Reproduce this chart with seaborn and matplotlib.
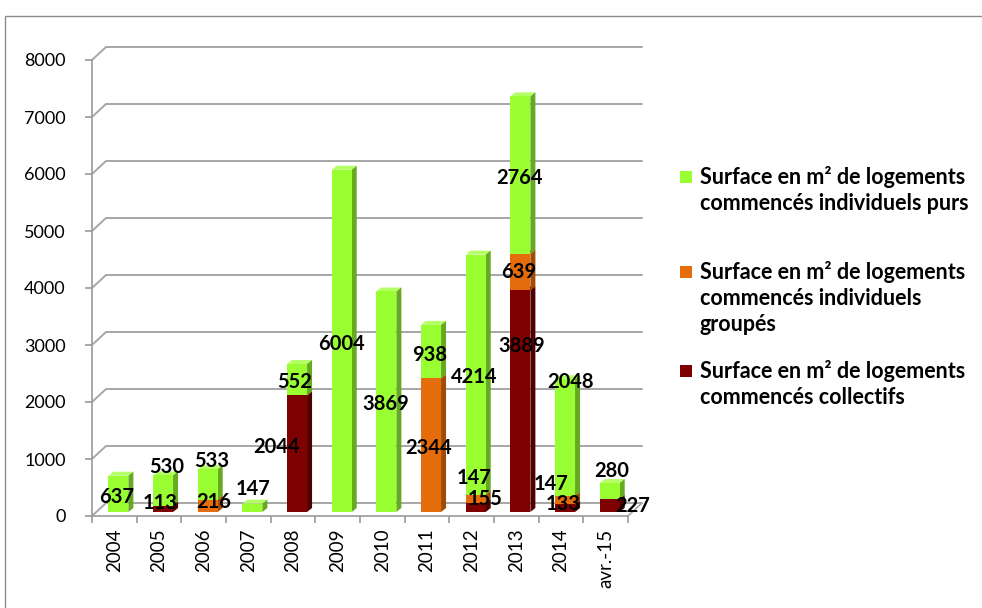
import numpy as np
import pandas as pd
import matplotlib
matplotlib.use("Agg")
import matplotlib.pyplot as plt
import matplotlib.transforms as mtransforms
from matplotlib.patches import Polygon, Rectangle
from matplotlib.lines import Line2D
import seaborn as sns

# data
years = ["2004", "2005", "2006", "2007", "2008", "2009", "2010", "2011",
         "2012", "2013", "2014", "avr.-15"]
collectifs = [0, 113, 0, 0, 2044, 0, 0, 0, 155, 3889, 133, 227]
groupes = [0, 0, 216, 0, 0, 0, 0, 2344, 147, 639, 147, 0]
purs = [637, 530, 533, 147, 552, 6004, 3869, 938, 4214, 2764, 2048, 280]

labels = ["Surface en m² de logements\ncommencés individuels purs",
          "Surface en m² de logements\ncommencés individuels\ngroupés",
          "Surface en m² de logements\ncommencés collectifs"]

# where Excel put the value labels (value units, pixel x shift)
lab_y_coll = [np.nan, 228, np.nan, np.nan, 1210, np.nan, np.nan, np.nan, 298, 2982, 215, 175]
lab_dx_coll = [0, 1, 0, 0, -16, 0, 0, 0, 13, 5, 2, 27]
lab_y_grp = [np.nan, np.nan, 245, np.nan, np.nan, np.nan, np.nan, 1193, 667, 4280, 570, np.nan]
lab_dx_grp = [0, 0, 10, 0, 0, 0, 0, 2, 2, 2, -10, 0]
lab_y_purs = [333, 860, 965, 474, 2350, 3018, 1965, 2825, 2438, 5930, 2350, 790]
lab_dx_purs = [2, 8, 8, 5, 2, 4, 3, 3, 3, 3, 9, 6]

front = {"coll": "#7F0000", "grp": "#E46C0A", "purs": "#99FF33"}
side = {"coll": "#4F0000", "grp": "#A04C07", "purs": "#66AA22"}
top = {"coll": "#990000", "grp": "#F08A3A", "purs": "#B5FF66"}

df = pd.DataFrame({"annee": years, "coll": collectifs, "grp": groupes, "purs": purs})

sns.set_theme(style="white")
plt.rcParams["font.family"] = ["Lato", "DejaVu Sans"]

W, H = 982, 608
fig = plt.figure(figsize=(W / 100, H / 100), dpi=100)
ax = fig.add_axes([92 / W, 1 - 516 / H, 536 / W, 456 / H])

bar_shift = mtransforms.ScaledTranslation(4 / 100, 4 / 100, fig.dpi_scale_trans)
ident = mtransforms.IdentityTransform()

bottoms = np.zeros(len(years))
stacked = []
for key in ["coll", "grp", "purs"]:
    n0 = len(ax.patches)
    sns.barplot(data=df, x="annee", y=key, order=years, bottom=bottoms.copy(),
                width=0.45, color=front[key], saturation=1, errorbar=None,
                linewidth=0, edgecolor="none", ax=ax, zorder=3)
    stacked.append((key, ax.patches[n0:]))
    bottoms = bottoms + df[key].to_numpy()

ax.set_xlim(-0.5, len(years) - 0.5)
ax.set_ylim(0, 8000)
ax.set_xlabel("")
ax.set_ylabel("")

# fake 3D: shift front faces and add side / top faces
for key, patches in stacked:
    for p in patches:
        p.set_transform(ax.transData + bar_shift)
        if p.get_height() <= 0:
            p.set_visible(False)
            continue
        x0, y0 = p.get_x(), p.get_y()
        (xl, yb), (xr, yt) = ax.transData.transform(
            [(x0, y0), (x0 + p.get_width(), y0 + p.get_height())])
        xl, xr, yb, yt = xl + 4, xr + 4, yb + 4, yt + 4
        d, e = 5, 4
        ax.add_patch(Polygon([(xr, yb), (xr + d, yb + e), (xr + d, yt + e), (xr, yt)],
                             closed=True, facecolor=side[key], edgecolor="none",
                             transform=ident, zorder=2.9, clip_on=False))
        ax.add_patch(Polygon([(xl, yt), (xl + d, yt + e), (xr + d, yt + e), (xr, yt)],
                             closed=True, facecolor=top[key], edgecolor="none",
                             transform=ident, zorder=2.8, clip_on=False))

# back wall gridlines and floor
grid_c = "#A6A6A6"
dx, dy = 14, 13
for v in range(0, 8001, 1000):
    xa, ya = ax.transData.transform((-0.5, v))
    xb, _ = ax.transData.transform((len(years) - 0.5, v))
    ax.add_line(Line2D([xa, xa + dx, xb + dx], [ya, ya + dy, ya + dy], color=grid_c,
                       lw=1.4, transform=ident, zorder=1, clip_on=False))
xa, ya = ax.transData.transform((len(years) - 0.5, 0))
ax.add_line(Line2D([xa, xa + dx], [ya, ya + dy], color=grid_c, lw=1.2,
                   transform=ident, zorder=1, clip_on=False))

# value labels
for vals, ly, ldx in [(collectifs, lab_y_coll, lab_dx_coll),
                      (groupes, lab_y_grp, lab_dx_grp),
                      (purs, lab_y_purs, lab_dx_purs)]:
    for i, v in enumerate(vals):
        if v <= 0:
            continue
        tr = ax.transData + mtransforms.ScaledTranslation(ldx[i] / 100, 0, fig.dpi_scale_trans)
        ax.text(i, ly[i], str(v), transform=tr, ha="center", va="center",
                fontsize=14.5, fontweight="bold", color="black", zorder=5, clip_on=False)

# axes styling
for s in ["top", "right"]:
    ax.spines[s].set_visible(False)
for s in ["left", "bottom"]:
    ax.spines[s].set_color("#9A9A9A")
    ax.spines[s].set_linewidth(1.2)
ax.set_yticks(range(0, 8001, 1000))
ax.tick_params(axis="y", length=5, width=1.2, color="#9A9A9A", pad=14,
               labelsize=13, labelcolor="black", left=True)
ax.set_xticks(range(len(years)))
ax.set_xticklabels(years, rotation=90)
ax.set_xticks(np.arange(-0.5, len(years)), minor=True)
ax.tick_params(axis="x", which="major", length=0, pad=9, labelsize=13.5, labelcolor="black")
ax.tick_params(axis="x", which="minor", length=5, width=1.2, color="#9A9A9A", bottom=True)
ax.grid(False)
ax.patch.set_alpha(0)

# legend drawn by hand (square lines up with first text line)
leg_y = [177, 272, 371]
for key, lab, yy in zip(["purs", "grp", "coll"], labels, leg_y):
    fig.add_artist(Rectangle((680 / W, 1 - (yy + 6) / H), 12 / W, 12 / H,
                             transform=fig.transFigure, facecolor=front[key],
                             edgecolor="none"))
    fig.text(700 / W, 1 - (yy - 11) / H, lab, ha="left", va="top", fontsize=15.5,
             fontweight="bold", linespacing=1.3, color="black")

# chart border
fig.add_artist(Rectangle((5 / W, -0.1), 1.2, 1 - 16 / H + 0.1, transform=fig.transFigure,
                         fill=False, edgecolor="#8C8C8C", lw=1.0))

fig.savefig("out.png", dpi=100)
